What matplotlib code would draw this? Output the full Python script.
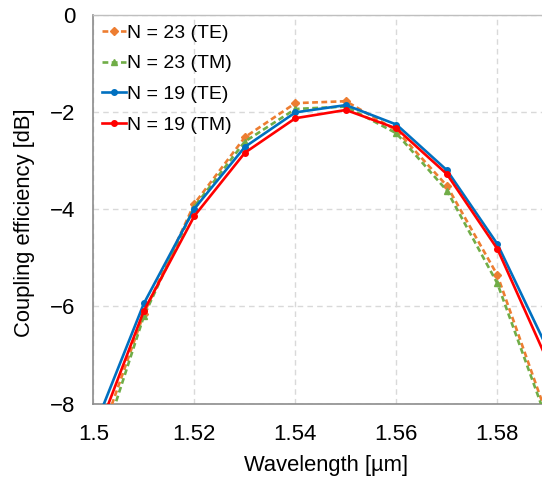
import matplotlib
matplotlib.use("Agg")
import matplotlib.pyplot as plt

plt.rcParams['font.family'] = ['Liberation Sans', 'DejaVu Sans']

wavelength = [1.50, 1.51, 1.52, 1.53, 1.54, 1.55, 1.56, 1.57, 1.58, 1.59]
te23 = [-9.10, -6.15, -3.89, -2.52, -1.82, -1.78, -2.38, -3.52, -5.36, -8.30]
tm23 = [-9.40, -6.20, -3.95, -2.61, -1.94, -1.89, -2.44, -3.62, -5.53, -8.40]
te19 = [-8.55, -5.94, -3.99, -2.72, -2.01, -1.86, -2.26, -3.20, -4.72, -6.89]
tm19 = [-8.82, -6.09, -4.14, -2.84, -2.13, -1.96, -2.34, -3.28, -4.82, -7.14]
labels = ["N = 23 (TE)", "N = 23 (TM)", "N = 19 (TE)", "N = 19 (TM)"]
xticks = [1.5, 1.52, 1.54, 1.56, 1.58]
xticklabels = ["1.5", "1.52", "1.54", "1.56", "1.58"]
yticks = [0, -2, -4, -6, -8]

W, H = 542, 479
fig = plt.figure(figsize=(W / 100, H / 100), dpi=100)
left, right, top, bottom = 93.4, 542, 14.7, 403.5
ax = fig.add_axes([left / W, 1 - bottom / H, (right - left) / W, (bottom - top) / H])

dash = (0, (2.2, 1.3))
ax.plot(wavelength, te23, color='#ED7D31', lw=1.9, ls=dash, marker='D', ms=4.5, label=labels[0], zorder=3)
ax.plot(wavelength, tm23, color='#70AD47', lw=1.9, ls=dash, marker='^', ms=4.5, label=labels[1], zorder=3)
ax.plot(wavelength, te19, color='#0070C0', lw=1.9, marker='o', ms=4, label=labels[2], zorder=4)
ax.plot(wavelength, tm19, color='#FF0000', lw=1.9, marker='o', ms=4, label=labels[3], zorder=5)

ax.set_xlim(1.5, 1.5 + (right - left) / 5050)
ax.set_ylim(-8, 0)
ax.set_xticks(xticks)
ax.set_xticklabels(xticklabels)
ax.set_yticks(yticks)
ax.tick_params(length=0, labelsize=16, colors='black')
ax.tick_params(axis='y', pad=13)
ax.tick_params(axis='x', pad=15)

ax.grid(True, color='#D9D9D9', ls=(0, (4, 3)), lw=1.0)
ax.set_axisbelow(True)
for s in ['left', 'bottom']:
    ax.spines[s].set_color('#8C8C8C')
    ax.spines[s].set_linewidth(1.2)
ax.spines['top'].set_color('#BFBFBF')
ax.spines['top'].set_linewidth(1.0)
ax.spines['right'].set_visible(False)

ax.set_xlabel("Wavelength [µm]", fontsize=15.8)
ax.set_ylabel("Coupling efficiency [dB]", fontsize=15.8)
ax.xaxis.set_label_coords((326 - left) / (right - left), -(466 - bottom) / (bottom - top), transform=ax.transAxes)
ax.yaxis.set_label_coords(-(left - 25) / (right - left), (bottom - 223) / (bottom - top), transform=ax.transAxes)
ax.yaxis.label.set_va('center')
ax.xaxis.label.set_va('center')

leg = ax.legend(loc='upper left', bbox_to_anchor=(100 / W, 1 - 22 / H), bbox_transform=fig.transFigure,
                frameon=False, fontsize=14, handlelength=1.25, handletextpad=0.02,
                labelspacing=0.68, borderpad=0.1, borderaxespad=0)

fig.savefig("out.png", dpi=100)
